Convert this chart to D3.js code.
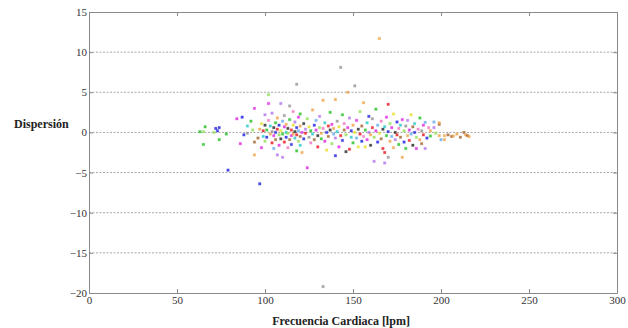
<!DOCTYPE html>
<html>
<head>
<meta charset="utf-8">
<script src="https://cdn.jsdelivr.net/npm/d3@7"></script>
<style>
  body { margin: 0; background: #fff; }
  svg { display: block; }
  .tick text { font-family: "Liberation Serif", "Times New Roman", serif; font-size: 11px; fill: #333; }
  .title { font-family: "Liberation Serif", "Times New Roman", serif; font-size: 12px; font-weight: bold; fill: #222; }
</style>
</head>
<body>
<div id="chart"></div>
<script>
// tick labels
const xTicks = [0, 50, 100, 150, 200, 250, 300];
const yTicks = [-20, -15, -10, -5, 0, 5, 10, 15];
const gridLevels = [-15, -10, -5, 0, 5, 10];

// marker colours (one per recording)
const palette = ['#e8101a', '#1fbf1f', '#1a1ae0', '#e020e0', '#20c8c8', '#222222', '#f0a040',
  '#90e050', '#b070f0', '#a0602a', '#e8e020', '#909090', '#f070c0', '#60a8f0'];

// heart rate [lpm]
const heartRate = [
  63, 65, 66, 65, 72, 73, 74, 74, 78, 79, 71,
  84, 87, 86, 88, 90, 90, 92, 94, 93, 94, 96, 94, 97, 97, 98, 98, 99, 99, 100, 100, 100,
  101, 101, 102, 102, 102, 103, 103, 104, 104, 104,
  105, 105, 105, 106, 106, 106, 107, 107, 107, 108,
  108, 108, 109, 109, 109, 110, 110, 110, 111, 111,
  111, 112, 112, 112, 113, 113, 113, 114, 114, 114,
  115, 115, 115, 116, 116, 116, 117, 117, 117, 118,
  118, 118, 118, 119, 119, 119, 120, 120, 120, 120,
  121, 121, 122, 122, 123, 123, 124, 124, 125, 125,
  126, 126, 127, 127, 128, 128, 129, 129, 130, 130,
  131, 131, 132, 132, 133, 133, 133, 134, 134, 135,
  135, 136, 136, 137, 137, 138, 138, 139, 139, 140,
  140, 140, 141, 141, 142, 142, 143, 143, 144, 144,
  145, 145, 146, 146, 147, 147, 148, 148, 149, 149,
  150, 150,
  151, 151, 152, 152, 153, 153, 154, 154, 155, 155,
  156, 156, 157, 157, 158, 158, 159, 159, 160, 160,
  161, 161, 162, 162, 163, 163, 164, 164, 165, 165,
  166, 166, 167, 167, 168, 168, 168, 169, 169, 170,
  170, 170, 171, 171, 172, 172, 173, 173, 174, 174,
  175, 175, 176, 176, 177, 177, 178, 178, 179, 179,
  180, 180,
  181, 181, 182, 182, 183, 183, 184, 184, 185, 185,
  186, 186, 187, 188, 188, 189, 189, 190, 190, 191,
  191, 192, 193, 194, 194, 196, 196, 197, 199, 199,
  200, 199,
  202, 202, 204, 206, 207, 209, 211, 213, 214, 215, 216
];

// dispersion, same order
const dispersion = [
  0.1, 0.1, 0.7, -1.5, 0.5, 0.2, 0.6, -0.9, -0.2, -4.7, 0.0,
  1.7, 1.9, -1.4, -0.3, -0.1, 0.8, 1.4, 3.0, 0.3, -1.2, -0.7, -2.8, -6.4, 0.4, -1.9, 1.1, 0.2, -0.5, 0.9, -1.1, 2.2,
  0.3, -0.6, 4.7, 3.6, 1.5, -0.2, 0.8, -1.3, 0.1, 2.4,
  -0.4, 0.6, -2.0, 1.2, -0.9, 0.0, -2.8, 0.4, 1.8, -0.3,
  -1.6, 0.9, 3.6, 0.2, -0.8, -3.1, 1.4, -0.2, 0.7, -1.2,
  2.1, 0.0, -0.6, 1.0, -1.9, 0.5, -0.1, 3.3, -0.9, 1.6,
  0.3, -0.4, -1.5, 0.9, -0.2, 2.6, -0.7, 0.1, 1.3, -2.3,
  6.0, 0.6, -0.3, 1.9, -1.1, 0.2, -0.5, 0.8, 2.3, -1.6,
  0.0, -2.5, 1.1, -0.8, 0.4, -0.1, -4.4, 1.7, -0.6, 0.7,
  0.2, -1.3, 2.8, -0.2, 0.9, -0.9, 0.3, 1.5, -0.4, -1.8,
  0.6, 2.0, -0.1, -0.8, 4.0, -19.2, 0.5, 1.2, -1.1, 0.0,
  -2.2, 0.8, -0.5, 2.5, 0.3, -1.4, 1.0, -0.2, 0.5, 4.1,
  -2.9, -0.7, 1.4, 0.1, -1.8, 0.7, 8.1, -0.4, 2.2, -1.0,
  0.3, 1.1, -0.3, -2.4, 5.0, 0.6, -2.1, 1.8, -0.6, 0.2,
  0.9, -1.3,
  5.8, 0.0, -0.7, 1.5, -1.8, 0.4, 2.6, -0.2, -1.1, 0.8,
  3.7, -0.5, -1.8, 0.3, 1.2, -0.9, 0.0, 2.0, -0.3, -1.6,
  0.6, 1.7, -3.6, -0.6, 0.2, 2.9, -1.2, 0.9, 11.7, -0.1,
  1.4, -0.8, 0.4, -2.0, -3.8, -2.5, 0.7, 1.9, -0.4, 3.5,
  -3.1, 0.1, -1.1, 1.1, -0.5, 0.6, -1.9, 2.3, 0.0, -0.9,
  1.3, -0.3, 0.5, -1.5, 0.9, -0.6, -3.1, 1.6, 0.2, -1.2,
  -2.0, 0.8,
  -0.4, 1.5, 0.3, -1.0, 2.2, -0.2, 0.7, -1.6, 0.0, 1.1,
  -2.0, -0.6, 0.4, -0.9, 1.8, -1.4, 0.2, 0.9, -0.3, 1.25,
  -2.0, -0.7, 0.6, -0.45, 0.2, 1.3, 0.6, -0.1, 1.0, -0.4,
  -0.9, 1.2,
  -0.4, -0.9, -0.3, -0.5, -0.45, -0.2, -0.6, 0.0, -0.3, -0.4, -0.5
];

// palette index per point, same order
const colourIdx = [
  1, 7, 1, 1, 2, 2, 2, 1, 1, 2, 7,
  3, 2, 3, 2, 11, 4, 1, 3, 7, 9, 9, 6, 2, 6, 3, 10, 0, 4, 5, 7, 8,
  1, 2, 7, 3, 12, 6, 4, 0, 11, 8,
  3, 5, 13, 1, 9, 2, 8, 0, 6, 7,
  3, 2, 8, 10, 5, 8, 13, 1, 3, 0,
  11, 4, 2, 6, 12, 5, 7, 11, 9, 1,
  0, 3, 2, 10, 6, 12, 4, 5, 8, 1,
  11, 2, 0, 3, 7, 13, 9, 6, 1, 4,
  3, 6, 5, 2, 8, 0, 3, 7, 11, 10,
  1, 12, 6, 4, 2, 9, 3, 13, 5, 0,
  7, 8, 6, 1, 6, 11, 12, 4, 3, 2,
  10, 0, 9, 1, 5, 7, 3, 13, 6, 6,
  2, 8, 11, 4, 3, 10, 11, 0, 1, 2,
  9, 12, 7, 5, 6, 3, 0, 8, 4, 2,
  6, 1,
  11, 10, 13, 3, 10, 5, 7, 0, 2, 9,
  6, 12, 10, 1, 4, 3, 8, 2, 6, 5,
  0, 11, 8, 7, 3, 1, 2, 13, 6, 10,
  12, 9, 5, 0, 8, 0, 4, 3, 1, 0,
  11, 2, 6, 7, 13, 3, 6, 10, 5, 8,
  2, 0, 12, 1, 4, 9, 6, 3, 7, 2,
  1, 11,
  6, 8, 3, 0, 10, 13, 9, 5, 2, 4,
  3, 7, 12, 6, 1, 9, 11, 3, 0, 13,
  8, 2, 12, 1, 6, 13, 8, 7, 9, 6,
  13, 6,
  6, 6, 9, 9, 6, 6, 9, 9, 6, 9, 6
];

const width = 628, height = 328;
const margin = { top: 12, right: 11, bottom: 35, left: 89 };

const svg = d3.select('#chart').append('svg')
  .attr('width', width)
  .attr('height', height);

const x = d3.scaleLinear().domain([0, 300]).range([margin.left, width - margin.right]);
const y = d3.scaleLinear().domain([-20, 15]).range([height - margin.bottom, margin.top]);

// dotted grid
svg.append('g').selectAll('line')
  .data(gridLevels)
  .join('line')
  .attr('x1', x(0)).attr('x2', x(300))
  .attr('y1', d => y(d)).attr('y2', d => y(d))
  .attr('stroke', '#a8a8a8')
  .attr('stroke-width', 1)
  .attr('stroke-dasharray', '2,1.5');

// markers: small soft squares
const pts = heartRate.map((hr, i) => ({ hr, d: dispersion[i], c: palette[colourIdx[i]] }));
svg.append('g').selectAll('rect')
  .data(pts)
  .join('rect')
  .attr('x', p => x(p.hr) - 1.25)
  .attr('y', p => y(p.d) - 1.25)
  .attr('width', 2.5)
  .attr('height', 2.5)
  .attr('fill', p => p.c)
  .attr('stroke', p => p.c)
  .attr('stroke-opacity', 0.3)
  .attr('stroke-width', 0.8)
  .attr('opacity', 0.8);

// axes, ticks pointing inwards, mirrored on top/right
const styleAxis = g => {
  g.select('.domain').attr('stroke', '#8a8a8a');
  g.selectAll('.tick line').attr('stroke', '#8a8a8a');
};

svg.append('g')
  .attr('transform', `translate(0,${y(-20)})`)
  .call(d3.axisBottom(x).tickValues(xTicks).tickSize(-4).tickPadding(3).tickSizeOuter(0))
  .call(styleAxis);

svg.append('g')
  .attr('transform', `translate(0,${y(15)})`)
  .call(d3.axisTop(x).tickValues(xTicks).tickSize(-4).tickFormat('').tickSizeOuter(0))
  .call(styleAxis);

svg.append('g')
  .attr('transform', `translate(${x(0)},0)`)
  .call(d3.axisLeft(y).tickValues(yTicks).tickSize(-4).tickPadding(2).tickSizeOuter(0))
  .call(styleAxis);

svg.append('g')
  .attr('transform', `translate(${x(300)},0)`)
  .call(d3.axisRight(y).tickValues(yTicks).tickSize(-4).tickFormat('').tickSizeOuter(0))
  .call(styleAxis);

// axis titles
svg.append('text')
  .attr('class', 'title')
  .attr('x', 14)
  .attr('y', 128)
  .text('Dispersión');

svg.append('text')
  .attr('class', 'title')
  .attr('x', 341)
  .attr('y', 325)
  .attr('text-anchor', 'middle')
  .text('Frecuencia Cardiaca [lpm]');
</script>
</body>
</html>
